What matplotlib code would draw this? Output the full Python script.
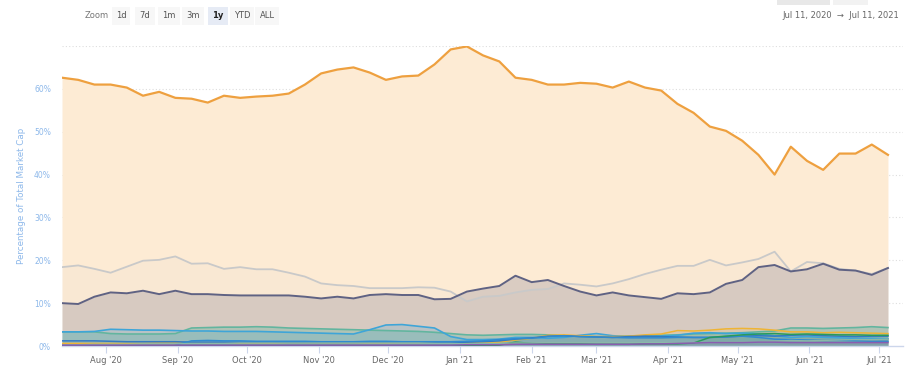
import numpy as np
import pandas as pd
import matplotlib.pyplot as plt
import matplotlib.dates as mdates

# ========== DATA (weekly, % of total market cap) ==========
dates = pd.date_range("2020-07-13", periods=52, freq="7D")

btc = [62.6, 62.1, 61.0, 61.0, 60.3, 58.4, 59.3, 57.9, 57.7, 56.8, 58.4, 57.9, 58.2,
       58.4, 58.9, 61.0, 63.6, 64.5, 65.0, 63.8, 62.1, 62.9, 63.1, 65.7, 69.2, 69.9,
       67.8, 66.4, 62.6, 62.1, 61.0, 61.0, 61.4, 61.2, 60.3, 61.7, 60.3, 59.6, 56.5,
       54.4, 51.2, 50.2, 47.9, 44.6, 40.0, 46.5, 43.2, 41.1, 44.9, 44.9, 47.0, 44.6]

eth = [10.0, 9.8, 11.5, 12.5, 12.3, 12.9, 12.1, 12.9, 12.1, 12.1, 11.9, 11.8, 11.8,
       11.8, 11.8, 11.5, 11.1, 11.5, 11.1, 11.9, 12.1, 11.9, 11.9, 10.9, 11.0, 12.7,
       13.4, 14.0, 16.4, 14.9, 15.4, 14.0, 12.7, 11.8, 12.5, 11.8, 11.4, 11.0, 12.3,
       12.1, 12.5, 14.5, 15.4, 18.4, 18.9, 17.4, 17.9, 19.2, 17.8, 17.6, 16.6, 18.2]

others = [18.4, 18.8, 18.0, 17.1, 18.5, 19.9, 20.1, 20.9, 19.2, 19.3, 18.0, 18.4, 17.9,
          17.9, 17.1, 16.2, 14.6, 14.2, 14.0, 13.5, 13.5, 13.5, 13.7, 13.6, 12.7, 10.4,
          11.5, 11.7, 12.5, 13.1, 13.3, 14.6, 14.3, 13.9, 14.6, 15.6, 16.8, 17.8, 18.7,
          18.7, 20.1, 18.8, 19.5, 20.3, 22.0, 17.4, 19.6, 19.3, 18.0, 17.6, 16.8, 18.2]

usdt = [3.3, 3.3, 3.3, 2.9, 2.8, 2.8, 2.8, 2.9, 4.2, 4.3, 4.4, 4.4, 4.5,
        4.4, 4.2, 4.1, 4.0, 3.9, 3.8, 3.7, 3.6, 3.5, 3.4, 3.2, 2.9, 2.6,
        2.5, 2.6, 2.7, 2.7, 2.6, 2.4, 2.3, 2.2, 2.2, 2.3, 2.4, 2.5, 2.6,
        2.8, 2.9, 3.0, 3.1, 3.3, 3.5, 4.2, 4.2, 4.1, 4.2, 4.3, 4.5, 4.3]

xrp = [3.3, 3.3, 3.4, 3.9, 3.8, 3.7, 3.7, 3.6, 3.5, 3.5, 3.4, 3.4, 3.4,
       3.3, 3.2, 3.1, 3.0, 2.9, 2.8, 3.8, 4.9, 5.0, 4.6, 4.2, 2.2, 1.5,
       1.5, 1.6, 2.0, 2.0, 1.8, 2.0, 2.5, 2.9, 2.4, 2.2, 2.2, 2.3, 2.5,
       3.0, 3.1, 2.9, 3.0, 2.8, 2.4, 2.0, 2.2, 2.0, 1.9, 1.8, 1.8, 1.7]

bnb = [0.6, 0.6, 0.6, 0.6, 0.6, 0.6, 0.7, 0.7, 0.7, 0.7, 0.7, 0.7, 0.7,
       0.7, 0.7, 0.7, 0.7, 0.7, 0.7, 0.7, 0.7, 0.8, 0.8, 0.9, 0.8, 0.7,
       0.8, 0.9, 1.4, 1.8, 2.5, 2.6, 2.4, 2.2, 2.2, 2.3, 2.6, 2.8, 3.6,
       3.5, 3.7, 4.0, 4.1, 4.0, 3.7, 3.3, 3.3, 3.1, 3.2, 3.1, 3.0, 2.9]

dot = [np.nan] * 7 + [0.2, 1.2, 1.3, 1.2, 1.2, 1.1,
       1.1, 1.1, 1.1, 1.0, 1.0, 1.0, 1.1, 1.1, 1.0, 1.0, 1.0, 1.0, 1.1,
       1.2, 1.5, 1.7, 1.8, 2.2, 2.4, 2.2, 2.1, 2.0, 1.9, 1.9, 1.9, 2.0,
       2.0, 2.0, 2.2, 2.3, 2.0, 1.6, 1.5, 1.4, 1.3, 1.3, 1.2, 1.1, 1.1]

ada = [1.2, 1.2, 1.2, 1.1, 1.0, 1.0, 1.0, 1.0, 0.9, 0.9, 0.9, 0.9, 0.9,
       0.9, 0.8, 0.8, 0.8, 0.8, 0.8, 0.9, 0.9, 0.9, 0.9, 0.9, 0.8, 0.9,
       1.0, 1.2, 1.6, 1.9, 2.3, 2.4, 2.2, 2.1, 2.0, 2.2, 2.3, 2.2, 2.1,
       2.0, 2.0, 2.1, 2.3, 2.4, 2.3, 2.5, 2.6, 2.4, 2.3, 2.2, 2.3, 2.3]

doge = [0.1] * 26 + [0.1, 0.2, 0.9, 0.6, 0.5, 0.5, 0.5, 0.4, 0.4, 0.4, 0.5, 0.5, 0.5,
        0.7, 2.0, 2.3, 2.6, 2.8, 2.9, 2.7, 2.8, 2.7, 2.6, 2.6, 2.5, 2.5]

usdc = [0.3, 0.3, 0.4, 0.4, 0.4, 0.5, 0.5, 0.5, 0.6, 0.6, 0.6, 0.7, 0.7,
        0.7, 0.7, 0.7, 0.7, 0.7, 0.7, 0.7, 0.7, 0.7, 0.7, 0.6, 0.6, 0.5,
        0.6, 0.6, 0.7, 0.7, 0.8, 0.8, 0.8, 0.8, 0.8, 0.8, 0.8, 0.8, 0.8,
        0.8, 0.8, 0.9, 0.9, 1.0, 1.1, 1.3, 1.2, 1.3, 1.4, 1.5, 1.5, 1.6]

other_small = [0.2, 0.2, 0.2, 0.2, 0.2, 0.2, 0.2, 0.2, 0.2, 0.2, 0.2, 0.2, 0.2,
               0.2, 0.2, 0.2, 0.2, 0.2, 0.2, 0.2, 0.2, 0.2, 0.2, 0.2, 0.2, 0.3,
               0.3, 0.3, 0.4, 0.4, 0.4, 0.4, 0.4, 0.4, 0.4, 0.4, 0.5, 0.5, 0.6,
               0.7, 0.8, 0.8, 0.8, 0.9, 0.9, 0.8, 0.8, 0.8, 0.8, 0.8, 0.8, 0.8]

# name, values, line colour, fill alpha, line width
series = [
    ("BTC", btc, "#eea03f", 0.0, 1.6),
    ("Others", others, "#c9c9c9", 0.07, 1.3),
    ("ETH", eth, "#5f6283", 0.22, 1.4),
    ("USDT", usdt, "#62b59f", 0.33, 1.2),
    ("XRP", xrp, "#3ea5d8", 0.2, 1.2),
    ("BNB", bnb, "#efb434", 0.12, 1.1),
    ("ADA", ada, "#3379c2", 0.12, 1.1),
    ("DOT", dot, "#2f8ad0", 0.12, 1.1),
    ("DOGE", doge, "#2a9a5a", 0.10, 1.1),
    ("USDC", usdc, "#8ab8a8", 0.10, 1.0),
    ("Misc", other_small, "#8a5db0", 0.15, 1.1),
]

# ========== FIGURE ==========
fig = plt.figure(figsize=(9.24, 3.65), dpi=100)
ax = fig.add_axes([62 / 924, 19 / 365, 841 / 924, 300 / 365])

x = mdates.date2num(dates)
for name, vals, col, alpha, lw in series:
    v = np.array(vals, dtype=float)
    if name == "BTC":
        ax.fill_between(x, 0, v, color="#fdebd4", lw=0, zorder=1)
    else:
        ax.fill_between(x, 0, v, color=col, alpha=alpha, lw=0, zorder=2)
    ax.plot(x, v, color=col, lw=lw, zorder=3, solid_joinstyle="round")

ax.set_xlim(mdates.date2num(pd.Timestamp("2020-07-13")),
            mdates.date2num(pd.Timestamp("2021-07-11 12:00")))
ax.set_ylim(0, 70)

# y axis
ax.set_yticks(range(0, 61, 10))
ax.set_yticklabels([f"{t}%" for t in range(0, 61, 10)])
for t in range(10, 71, 10):
    ax.axhline(t, color="#dedede", lw=0.8, ls=(0, (1, 2)), zorder=0)
ax.tick_params(axis="y", length=0, labelsize=5.5, labelcolor="#8db8ea", pad=8)
ax.set_ylabel("Percentage of Total Market Cap", color="#8db8ea", fontsize=6.3, labelpad=6)

# x axis
months = pd.date_range("2020-08-01", "2021-07-01", freq="MS")
ax.set_xticks(mdates.date2num(months))
ax.set_xticklabels([m.strftime("%b '%y") for m in months])
ax.tick_params(axis="x", length=5, width=0.8, color="#ccd6eb", labelsize=6,
               labelcolor="#666666", pad=2)

for side in ["top", "right", "left"]:
    ax.spines[side].set_visible(False)
ax.spines["bottom"].set_color("#ccd6eb")
ax.spines["bottom"].set_linewidth(1)

# ========== RANGE SELECTOR ==========
fig.text(85 / 924, 1 - 16 / 365, "Zoom", fontsize=6, color="#777777", va="center")
buttons = ["1d", "7d", "1m", "3m", "1y", "YTD", "ALL"]
bx = [121, 145, 169, 193, 218, 242, 267]
for lab, cx in zip(buttons, bx):
    sel = lab == "1y"
    fig.text(cx / 924, 1 - 16 / 365, lab, fontsize=6, ha="center", va="center",
             color="#222222" if sel else "#555555",
             fontweight="bold" if sel else "normal",
             bbox=dict(boxstyle="square,pad=0.5", fc="#e6ebf5" if sel else "#f7f7f7",
                       ec="none"))

fig.text(899 / 924, 1 - 16 / 365, "Jul 11, 2020  \u2192  Jul 11, 2021", fontsize=6,
         color="#666666", ha="right", va="center")
fig.patches.append(plt.Rectangle((777 / 924, 1 - 5 / 365), 53 / 924, 5 / 365,
                                 transform=fig.transFigure, fc="#e8e8e8", ec="none"))
fig.patches.append(plt.Rectangle((833 / 924, 1 - 5 / 365), 35 / 924, 5 / 365,
                                 transform=fig.transFigure, fc="#f2f2f2", ec="none"))

plt.savefig("out.png", dpi=100)
